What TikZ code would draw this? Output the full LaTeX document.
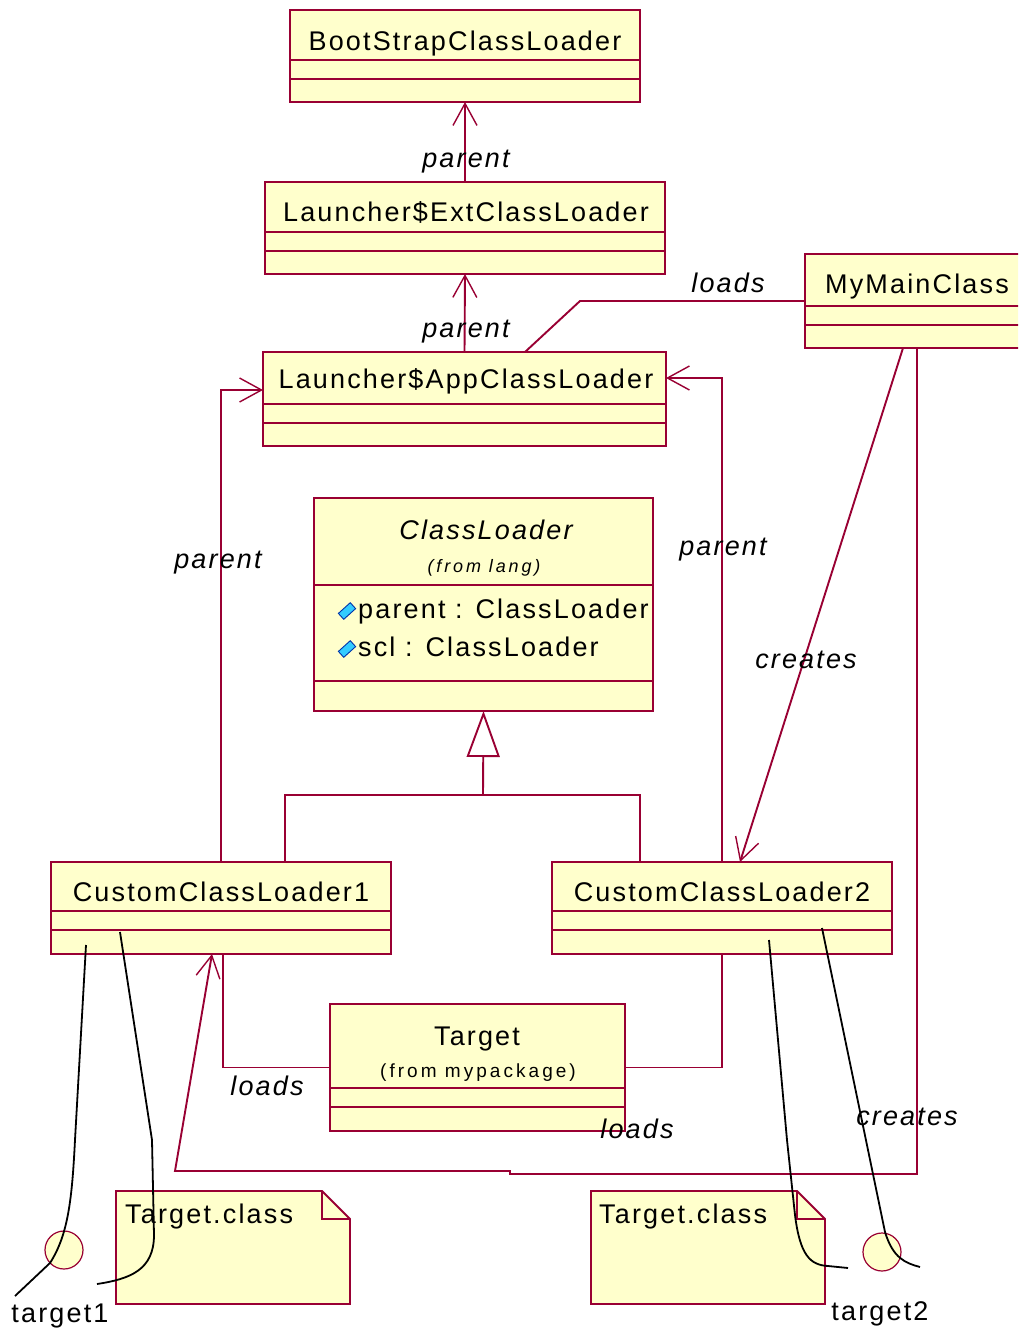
\documentclass[tikz,border=0pt]{standalone}
\usepackage{fontspec}
\setmainfont{Liberation Sans}
\newfontfamily\umlfont[LetterSpace=8]{Liberation Sans}
\newfontfamily\umlsmallfont[LetterSpace=16]{Liberation Sans}
\usetikzlibrary{arrows.meta,calc}
\definecolor{umlline}{HTML}{990033}
\definecolor{umlfill}{HTML}{FFFFCC}
\definecolor{iconfill}{HTML}{33CCFF}
\definecolor{iconline}{HTML}{0033AA}

% a class box: name, x1, y1, x2, y2, first divider, second divider
\newcommand{\umlclass}[7]{%
  \node[classbox, minimum width={#4-#2}, minimum height={#5-#3}] (#1) at (#2,#3) {};
  \draw[divider] (#2,#6) -- (#4,#6);
  \draw[divider] (#2,#7) -- (#4,#7);
}

\begin{document}
\begin{tikzpicture}[x=1pt, y=-1pt,
  classbox/.style={draw=umlline, fill=umlfill, line width=1.9pt, anchor=north west,
    inner sep=0pt, outer sep=0pt},
  divider/.style={draw=umlline, line width=1.9pt},
  classname/.style={anchor=base, inner sep=0pt, font=\umlfont\fontsize{27}{32}\selectfont},
  smallname/.style={anchor=base, inner sep=0pt, font=\umlsmallfont\fontsize{19}{23}\selectfont},
  attr/.style={anchor=base west, inner sep=0pt, font=\umlfont\fontsize{27}{32}\selectfont},
  lbl/.style={anchor=base, inner sep=0pt, font=\umlfont\itshape\fontsize{27}{32}\selectfont},
  link/.style={draw=umlline, line width=1.9pt},
  assoc/.style={link, -{Straight Barb[length=22pt, width=24pt, line width=1.4pt]}},
  gen/.style={link, -{Triangle[open, length=46pt, width=33pt, line width=1.9pt]}},
  objlink/.style={draw=black, line width=1.8pt},
  objcircle/.style={circle, draw=umlline, fill=umlfill, line width=1.2pt, minimum size=38pt, inner sep=0pt},
  notebox/.style={anchor=north west, minimum width=234pt, minimum height=113pt, inner sep=0pt, outer sep=0pt},
  notepath/.style={draw=umlline, fill=umlfill, line width=1.9pt, line join=miter},
  attricon/.style={draw=iconline, fill=iconfill, line width=0.9pt, minimum width=16pt,
    minimum height=8pt, inner sep=0pt, rotate=42},
]
\clip (0,0) rectangle (1018,1331);
\fill[white] (0,0) rectangle (1018,1331);

% class boxes
\umlclass{boot}{290}{10}{640}{102}{60}{79}
\umlclass{ext}{265}{182}{665}{274}{232}{251}
\umlclass{app}{263}{352}{666}{446}{404}{423}
\umlclass{main}{805}{254}{1029}{348}{306}{325}
\umlclass{cl}{314}{498}{653}{711}{585}{681}
\umlclass{ccl1}{51}{862}{391}{954}{911}{930}
\umlclass{ccl2}{552}{862}{892}{954}{911}{930}
\umlclass{target}{330}{1004}{625}{1131}{1088}{1107}

% class names and attributes
\node[classname] (boot-t) at (465,50) {BootStrapClassLoader};
\node[classname] (ext-t) at (466,221) {Launcher\$ExtClassLoader};
\node[classname] (app-t) at (466,388) {Launcher\$AppClassLoader};
\node[classname] (main-t) at (917,293) {MyMainClass};
\node[classname, font=\umlfont\itshape\fontsize{27}{32}\selectfont] (cl-t) at (486,539) {ClassLoader};
\node[smallname, font=\umlsmallfont\itshape\fontsize{18}{22}\selectfont] (cl-pkg) at (484,572) {(from lang)};
\node[attricon] (icon1) at (347,611) {};
\node[attr] (cl-a1) at (358,618) {parent : ClassLoader};
\node[attricon] (icon2) at (347,649) {};
\node[attr] (cl-a2) at (358,656) {scl : ClassLoader};
\node[classname] (ccl1-t) at (221,901) {CustomClassLoader1};
\node[classname] (ccl2-t) at (722,901) {CustomClassLoader2};
\node[classname] (target-t) at (477,1045) {Target};
\node[smallname] (target-pkg) at (478,1077) {(from mypackage)};

% parent chain
\draw[assoc] (ext.north) -- (boot.south);
\draw[assoc] (app.north) -- (ext.south);
\node[lbl] (l-p1) at (466,167) {parent};
\node[lbl] (l-p2) at (466,337) {parent};

% MyMainClass loads the application loader
\draw[link] (main.west) -- (580,301) -- ($(app.north west)+(262,0)$);
\node[lbl] (l-l1) at (728,292) {loads};

% custom loaders point to the application loader
\draw[assoc] (ccl1.north) |- ($(app.north west)+(0,38)$);
\draw[assoc] (ccl2.north) |- ($(app.north east)+(0,26)$);
\node[lbl] (l-p3) at (218,568) {parent};
\node[lbl] (l-p4) at (723,555) {parent};

% MyMainClass creates CustomClassLoader2
\draw[assoc] ($(main.south west)+(98,0)$) -- ($(ccl2.north west)+(188,0)$);
\node[lbl] (l-c1) at (806,668) {creates};

% MyMainClass loads CustomClassLoader1
\draw[assoc] (main.south) -- (917,1174) -- (510,1174) -- (510,1171) -- (175,1171)
  -- ($(ccl1.south west)+(161,0)$);
\node[lbl] (l-l3) at (637,1138) {loads};

% generalization
\coordinate (genjoin) at (483,795);
\draw[link] ($(ccl1.north west)+(234,0)$) |- (genjoin) -| ($(ccl2.north west)+(88,0)$);
\draw[gen] (genjoin) -- (cl.south);

% both custom loaders load Target
\draw[link] ($(ccl1.south west)+(172,0)$) |- (target.west);
\draw[link] (ccl2.south) |- (target.east);
\node[lbl] (l-l2) at (267,1095) {loads};

% class file notes
\node[notebox] (note1) at (116,1191) {};
\draw[notepath] (note1.north west) -- ($(note1.north east)+(-28,0)$) -- ($(note1.north east)+(0,28)$)
  -- (note1.south east) -- (note1.south west) -- cycle;
\draw[notepath, fill=none] ($(note1.north east)+(-28,0)$) |- ($(note1.north east)+(0,28)$);
\node[attr] (note1-t) at (125,1223) {Target.class};

\node[notebox] (note2) at (591,1191) {};
\draw[notepath] (note2.north west) -- ($(note2.north east)+(-28,0)$) -- ($(note2.north east)+(0,28)$)
  -- (note2.south east) -- (note2.south west) -- cycle;
\draw[notepath, fill=none] ($(note2.north east)+(-28,0)$) |- ($(note2.north east)+(0,28)$);
\node[attr] (note2-t) at (599,1223) {Target.class};

% object instances
\node[objcircle] (t1) at (64,1250) {};
\node[objcircle] (t2) at (882,1252) {};
\node[classname] (t1-t) at (60,1322) {target1};
\node[classname] (t2-t) at (880,1320) {target2};
\node[lbl] (l-c2) at (907,1125) {creates};

% instance links
\draw[objlink] ($(ccl1.south west)+(35,-9)$) -- (75,1140)
  .. controls (72,1200) and (68,1235) .. (50,1263) -- (15,1296);
\draw[objlink] ($(ccl1.south west)+(69,-22)$) -- (152,1140) -- (154,1235)
  .. controls (154,1270) and (130,1279) .. (97,1284);
\draw[objlink] ($(ccl2.south west)+(217,-14)$) -- (787,1140) -- (795,1215)
  .. controls (800,1255) and (810,1265) .. (828,1266) -- (848,1268);
\draw[objlink] ($(ccl2.south west)+(270,-26)$) -- (885,1232)
  .. controls (893,1258) and (905,1263) .. (920,1267);
\end{tikzpicture}
\end{document}
